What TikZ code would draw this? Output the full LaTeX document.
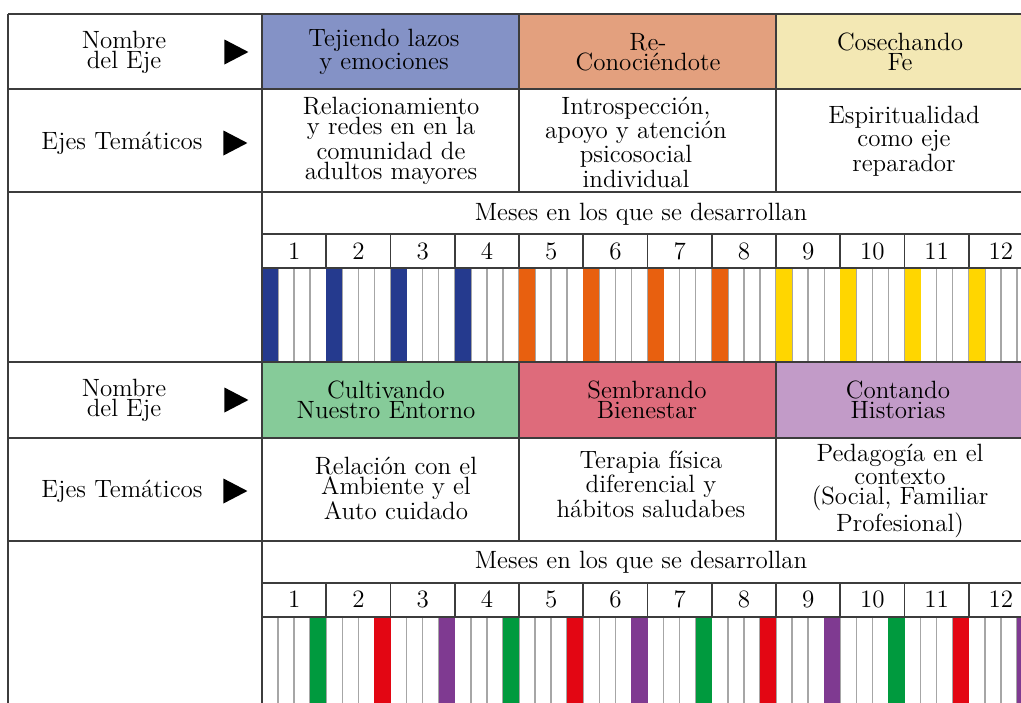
\documentclass[tikz,border=0pt]{standalone}
\usepackage{tikz}
\usetikzlibrary{shapes.geometric, positioning}
\definecolor{ejeazul}{HTML}{8492C6}
\definecolor{ejenaranja}{HTML}{E3A07E}
\definecolor{ejeamarillo}{HTML}{F3E8B4}
\definecolor{ejeverde}{HTML}{86CB99}
\definecolor{ejerosa}{HTML}{DE6B7B}
\definecolor{ejemorado}{HTML}{C29BC8}
\definecolor{barazul}{HTML}{253A8E}
\definecolor{barnaranja}{HTML}{E8600F}
\definecolor{baramarillo}{HTML}{FFD600}
\definecolor{barverde}{HTML}{009A3E}
\definecolor{barrojo}{HTML}{E30613}
\definecolor{barmorado}{HTML}{7F3A91}
\definecolor{borde}{HTML}{3C3C3C}
\tikzset{
    celda/.style={draw=borde, line width=0.9pt},
    division/.style={draw=black!35, line width=0.7pt},
    texto/.style={align=center, inner sep=0pt, font=\fontsize{12.5}{10}\selectfont},
    flecha/.style={isosceles triangle, isosceles triangle stretches, fill=black,
        inner sep=0pt, minimum width=12.5pt, minimum height=12pt}}

\begin{document}
\begin{tikzpicture}[x=0.5pt, y=-0.5pt]
    \useasboundingbox (0,0) rectangle (1021,702);
    \clip (0,0) rectangle (1021,702);
    \foreach \dy/\ca/\cb/\cc in {0/ejeazul/ejenaranja/ejeamarillo, 348/ejeverde/ejerosa/ejemorado}{
        \fill[\ca] (262,14+\dy) rectangle (519,89+\dy);
        \fill[\cb] (519,14+\dy) rectangle (776,89+\dy);
        \fill[\cc] (776,14+\dy) rectangle (1033,89+\dy);
        \foreach \k in {1,...,47}
            \draw[division] ({262+16.0625*\k},268+\dy) -- ++(0,94);
        \foreach \x in {519,776}
            \draw[celda] (\x,14+\dy) -- (\x,192+\dy);
        \foreach \m in {1,...,12}
            \draw[celda] ({262+64.25*\m},234+\dy) -- ++(0,34);
    }
    \foreach \m/\col in {0/barazul, 1/barazul, 2/barazul, 3/barazul,
        4/barnaranja, 5/barnaranja, 6/barnaranja, 7/barnaranja,
        8/baramarillo, 9/baramarillo, 10/baramarillo, 11/baramarillo}
        \fill[\col] ({262+64.25*\m},268) rectangle ++(16.06,94);
    \foreach \m/\col in {0/barverde, 1/barrojo, 2/barmorado, 3/barverde,
        4/barrojo, 5/barmorado, 6/barverde, 7/barrojo,
        8/barmorado, 9/barverde, 10/barrojo, 11/barmorado}
        \fill[\col] ({262+64.25*\m+48.19},617) rectangle ++(16.06,94);
    \foreach \y in {14,89,192,362,438,541}
        \draw[celda] (8,\y) -- (1033,\y);
    \foreach \y in {234,268,583,617}
        \draw[celda] (262,\y) -- (1033,\y);
    \draw[celda] (8,14) -- (8,710);
    \draw[celda] (262,14) -- (262,710);

    \foreach \dy/\b in {0/A, 348/B}{
        \node[texto] (nombre\b) at (124,52+\dy) {Nombre\\del Eje};
        \node[flecha] (flechaNombre\b) at (232,52+\dy) {};
        \node[texto] (temas\b) at (122,143+\dy) {Ejes Temáticos};
        \node[flecha] (flechaTemas\b) at (231,143+\dy) {};
        \node[texto] (meses\b) at (641,214+\dy) {Meses en los que se desarrollan};
        \foreach \m in {1,...,12}
            \node[texto] (mes\b\m) at ({262+64.25*(\m-0.5)},251+\dy) {\m};
    }

    \node[texto] (ejeA1) at (384,52) {Tejiendo lazos\\y emociones};
    \node[texto] (ejeA2) at (648,52) {Re-\\Conociéndote};
    \node[texto] (ejeA3) at (900,52) {Cosechando\\Fe};
    \node[texto] (temaA1) at (391,141) {Relacionamiento\\y redes en en la\\comunidad de\\adultos mayores};
    \node[texto] (temaA2) at (636,142) {Introspección,\\apoyo y atención\\psicosocial\\individual};
    \node[texto] (temaA3) at (904,141) {Espiritualidad\\como eje\\reparador};

    \node[texto] (ejeB1) at (386,400) {Cultivando\\Nuestro Entorno};
    \node[texto] (ejeB2) at (647,400) {Sembrando\\Bienestar};
    \node[texto] (ejeB3) at (898,400) {Contando\\Historias};
    \node[texto] (temaB1) at (396,488) {Relación con el\\Ambiente y el\\Auto cuidado};
    \node[texto] (temaB2) at (651,484) {Terapia física\\diferencial y\\hábitos saludabes};
    \node[texto] (temaB3) at (900,491) {Pedagogía en el\\contexto\\(Social, Familiar\\Profesional)};
\end{tikzpicture}
\end{document}
